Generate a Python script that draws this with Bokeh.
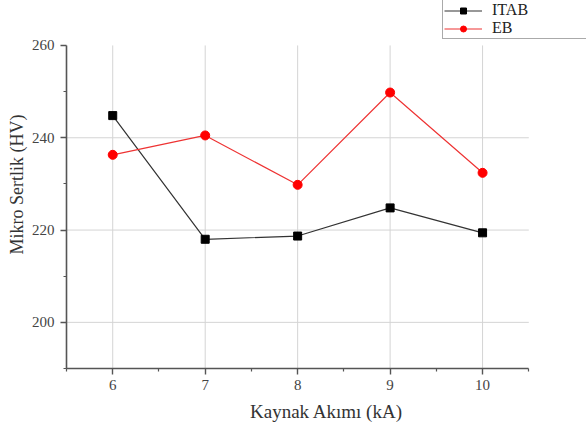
from bokeh.plotting import figure
from bokeh.models import Range1d, FixedTicker, Legend, LegendItem
from bokeh.embed import file_html
from bokeh.resources import INLINE

current_ka = [6, 7, 8, 9, 10]
itab = [244.8, 218.0, 218.7, 224.8, 219.4]
eb = [236.3, 240.5, 229.8, 249.8, 232.4]
x_ticks = [6, 7, 8, 9, 10]
y_ticks = [200, 220, 240, 260]
y_grid = [200, 220, 240]
x_lim = (5.5, 10.5)
y_lim = (190, 260)

FONT = "Liberation Serif"

# frame spans the whole top/right so the legend (placed top-right) is inside it;
# axes are limited with bounds to the reference's plotting area
p = figure(width=586, height=430, output_backend="svg", toolbar_location=None,
           x_range=Range1d(5.5, 11.124), y_range=Range1d(190, 269.74),
           min_border_left=66, min_border_right=0, min_border_top=0, min_border_bottom=62)
p.outline_line_color = None
p.background_fill_color = "white"
p.border_fill_color = "white"
p.xgrid.visible = False
p.ygrid.visible = False

# grid lines limited to the plotting area
GRID = "#d4d4d4"
p.segment(x0=x_ticks, y0=[y_lim[0]] * len(x_ticks), x1=x_ticks, y1=[y_lim[1]] * len(x_ticks),
          line_color=GRID, line_width=1)
p.segment(x0=[x_lim[0]] * len(y_grid), y0=y_grid, x1=[x_lim[1]] * len(y_grid), y1=y_grid,
          line_color=GRID, line_width=1)

# axes
p.xaxis.ticker = FixedTicker(ticks=x_ticks, minor_ticks=[5.5, 6.5, 7.5, 8.5, 9.5, 10.5])
p.yaxis.ticker = FixedTicker(ticks=y_ticks, minor_ticks=[190, 210, 230, 250])
p.xaxis.bounds = x_lim
p.yaxis.bounds = y_lim
for ax in (p.xaxis, p.yaxis):
    ax.axis_line_color = "#555555"
    ax.axis_line_width = 1.6
    ax.major_tick_line_color = "#555555"
    ax.minor_tick_line_color = "#555555"
    ax.major_tick_line_width = 1.4
    ax.minor_tick_line_width = 1.2
    ax.major_tick_out = 6
    ax.major_tick_in = 0
    ax.minor_tick_out = 3
    ax.minor_tick_in = 0
    ax.major_label_text_font = FONT
    ax.major_label_text_font_size = "15px"
    ax.major_label_text_color = "#444444"
    ax.axis_label_text_font = FONT
    ax.axis_label_text_font_style = "normal"
    ax.axis_label_text_color = "#333333"
p.xaxis.axis_label = "Kaynak Akımı (kA)"
p.yaxis.axis_label = "Mikro Sertlik (HV)"
p.xaxis.axis_label_text_font_size = "19px"
p.yaxis.axis_label_text_font_size = "18px"
p.xaxis.major_label_standoff = 5
p.xaxis.axis_label_standoff = 8
p.yaxis.major_label_standoff = 6
p.yaxis.axis_label_standoff = 2

l1 = p.line(current_ka, itab, line_color="#333333", line_width=1.2)
m1 = p.scatter(current_ka, itab, marker="square", size=8, fill_color="black", line_color="black")
l2 = p.line(current_ka, eb, line_color="#ee3333", line_width=1.2)
m2 = p.scatter(current_ka, eb, marker="circle", size=9, fill_color="#ff0000", line_color="#ff0000")

legend = Legend(items=[LegendItem(label="ITAB", renderers=[l1, m1]),
                       LegendItem(label="EB", renderers=[l2, m2])],
                location=(376, 329))
legend.label_text_font = FONT
legend.label_text_font_size = "16px"
legend.label_text_color = "#222222"
legend.glyph_width = 38
legend.glyph_height = 15
legend.label_height = 15
legend.label_standoff = 10
legend.spacing = 0
legend.padding = 1
legend.margin = 0
legend.border_line_color = "#555555"
legend.border_line_width = 1
legend.background_fill_alpha = 1
legend.label_width = 120
p.add_layout(legend, "center")

open("out.html", "w").write(file_html(p, INLINE))
